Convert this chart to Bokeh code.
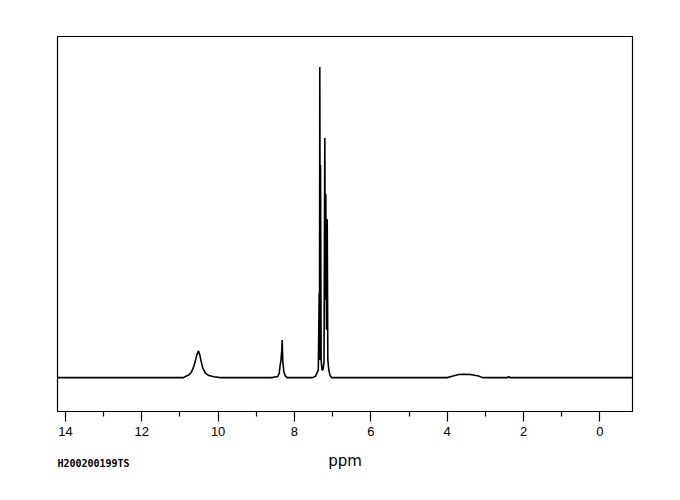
from bokeh.plotting import figure
from bokeh.models import Range1d, FixedTicker, LinearAxis, ColumnDataSource
from bokeh.embed import file_html
from bokeh.resources import INLINE

# Spectrum trace (chemical shift in ppm, relative intensity)
ppm = [14.2, 11.25, 10.91, 10.854, 10.768, 10.705, 10.653, 10.60, 10.558, 10.514,
       10.48, 10.443, 10.401, 10.331, 10.244, 10.113, 9.94,
       8.6, 8.437, 8.40, 8.374, 8.358, 8.332, 8.322, 8.306, 8.28, 8.243, 8.191,
       7.528, 7.45, 7.397, 7.376, 7.353, 7.345, 7.337, 7.326, 7.318, 7.303, 7.279,
       7.253, 7.227, 7.206, 7.193, 7.18, 7.161, 7.143, 7.127, 7.101, 7.07, 7.03,
       4.0, 3.87, 3.70, 3.55, 3.39, 3.18, 3.08,
       2.42, 2.39, 2.355, -0.85]
intensity = [0, 0, 0, 0.35, 0.9, 1.64, 3.05, 5.17, 7.32, 8.61,
             7.32, 5.17, 3.05, 1.45, 0.67, 0.26, 0,
             0, 0.35, 1.45, 4.1, 5.2, 8.9, 12.1, 5.2, 1.96, 0.58, 0,
             0, 0.42, 1.86, 2.5, 27.2, 5.7, 100, 25, 68.4, 5.7, 2.5,
             2.5, 5.1, 77.1, 25, 59, 15.4, 51, 5.7, 2.5, 0.74, 0,
             0, 0.45, 1.0, 1.05, 1.0, 0.55, 0,
             0, 0.35, 0, 0]

major_ticks = [0, 2, 4, 6, 8, 10, 12, 14]
minor_ticks = [1, 3, 5, 7, 9, 11, 13]
x_label = "ppm"
sample_id = "H200200199TS"

x_start, x_end = 14.207, -0.853
y_start, y_end = -10.9, 109.8
id_anchor = 13.264  # ppm position of the centre of the sample id text

p = figure(width=672, height=492, output_backend="svg", toolbar_location=None,
           x_range=Range1d(start=x_start, end=x_end),
           y_range=Range1d(start=y_start, end=y_end),
           y_axis_location=None,
           min_border_left=57, min_border_right=40,
           min_border_top=36, min_border_bottom=81)

p.background_fill_color = "white"
p.border_fill_color = "white"
p.outline_line_color = "black"
p.outline_line_width = 1.2
p.xgrid.visible = False
p.ygrid.visible = False

src = ColumnDataSource(data=dict(x=ppm, y=intensity))
p.line("x", "y", source=src, line_color="black", line_width=1.6)

ax = p.xaxis[0]
ax.ticker = FixedTicker(ticks=major_ticks, minor_ticks=minor_ticks)
ax.axis_line_color = "black"
ax.axis_line_width = 1.2
ax.major_tick_in = 0
ax.major_tick_out = 10
ax.minor_tick_in = 0
ax.minor_tick_out = 5
ax.major_tick_line_color = "black"
ax.minor_tick_line_color = "black"
ax.major_tick_line_width = 1.2
ax.minor_tick_line_width = 1.2
ax.major_label_text_font = "Liberation Sans"
ax.major_label_text_font_size = "13px"
ax.major_label_text_color = "black"
ax.major_label_standoff = 5

# second (text-only) axis carrying the sample id and the "ppm" title
ax2 = LinearAxis(ticker=FixedTicker(ticks=[id_anchor], minor_ticks=[]),
                 major_label_overrides={id_anchor: sample_id})
ax2.axis_line_color = None
ax2.major_tick_line_color = None
ax2.minor_tick_line_color = None
ax2.major_tick_in = 0
ax2.major_tick_out = 0
ax2.minor_tick_in = 0
ax2.minor_tick_out = 0
ax2.major_label_text_font = "DejaVu Sans Mono"
ax2.major_label_text_font_size = "10px"
ax2.major_label_text_font_style = "bold"
ax2.major_label_text_color = "black"
ax2.major_label_standoff = 19
ax2.axis_label = x_label
ax2.axis_label_text_font = "DejaVu Sans"
ax2.axis_label_text_font_size = "15px"
ax2.axis_label_text_font_style = "normal"
ax2.axis_label_text_color = "black"
ax2.axis_label_standoff = -20
p.add_layout(ax2, "below")

open("out.html", "w").write(file_html(p, INLINE))
